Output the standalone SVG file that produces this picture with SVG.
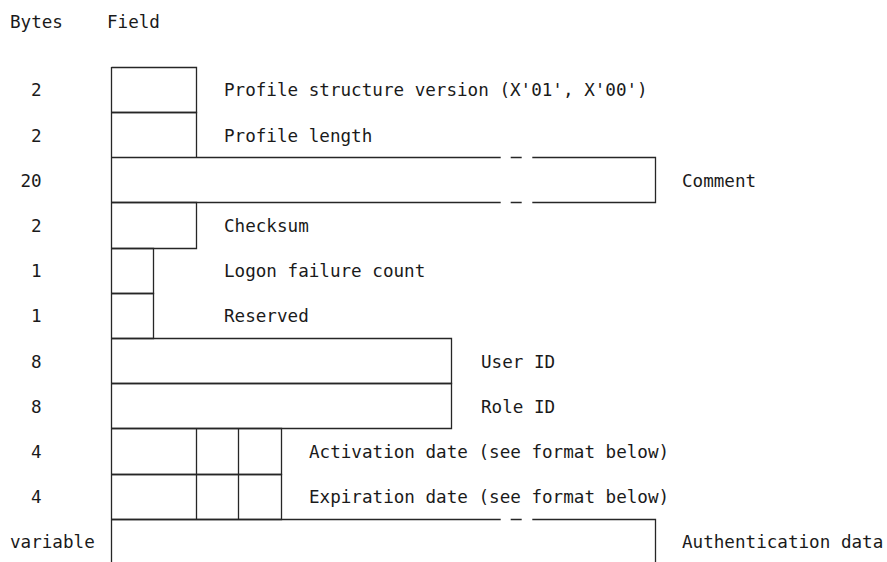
<svg xmlns="http://www.w3.org/2000/svg" width="887" height="562" viewBox="0 0 887 562">
<style>
  text { font-family: "DejaVu Sans Mono", "Liberation Mono", monospace; font-size: 17.6px; fill: #1a1a1a; }
  .ln { fill: none; stroke: #262626; stroke-width: 1.3; }
</style>
<rect x="0" y="0" width="887" height="562" fill="#ffffff"/>
<g id="header">
  <text x="10" y="27.5">Bytes</text>
  <text x="107" y="27.5">Field</text>
</g>
<g id="connectors">
  <path class="ln" d="M111.5 67 V562"/>
</g>
<g id="row-version">
  <path class="ln" d="M111.5 67.5 H196.5 V112.5 H111.5"/>
  <text x="31" y="96">2</text>
  <text x="224" y="96">Profile structure version (X'01', X'00')</text>
</g>
<g id="row-length">
  <path class="ln" d="M111.5 112.5 H196.5 V157.5"/>
  <text x="31" y="141.5">2</text>
  <text x="224" y="141.5">Profile length</text>
</g>
<g id="row-comment">
  <path class="ln" d="M111.5 157.5 H500.7 M510.7 157.5 H521.7 M532.3 157.5 H655.5 V202.5 H532.3 M521.7 202.5 H510.7 M500.7 202.5 H111.5"/>
  <text x="20.5" y="186.5">20</text>
  <text x="682" y="186.5">Comment</text>
</g>
<g id="row-checksum">
  <path class="ln" d="M111.5 202.5 H196.5 V248.5 H111.5"/>
  <text x="31" y="231.5">2</text>
  <text x="224" y="231.5">Checksum</text>
</g>
<g id="row-logon">
  <path class="ln" d="M111.5 248.5 H153.5 V293.5 H111.5"/>
  <text x="31" y="277">1</text>
  <text x="224" y="277">Logon failure count</text>
</g>
<g id="row-reserved">
  <path class="ln" d="M111.5 293.5 H153.5 V338.5 H111.5"/>
  <text x="31" y="322">1</text>
  <text x="224" y="322">Reserved</text>
</g>
<g id="row-userid">
  <path class="ln" d="M111.5 338.5 H451.5 V383.5 H111.5"/>
  <text x="31" y="367.5">8</text>
  <text x="481" y="367.5">User ID</text>
</g>
<g id="row-roleid">
  <path class="ln" d="M111.5 383.5 H451.5 V428.5 H111.5"/>
  <text x="31" y="412.5">8</text>
  <text x="481" y="412.5">Role ID</text>
</g>
<g id="row-activation">
  <path class="ln" d="M111.5 428.5 H281.5 V474.5 H111.5 M196.5 428.5 V474.5 M238.5 428.5 V474.5"/>
  <text x="31" y="457.5">4</text>
  <text x="309" y="457.5">Activation date (see format below)</text>
</g>
<g id="row-expiration">
  <path class="ln" d="M111.5 474.5 H281.5 V519.5 H111.5 M196.5 474.5 V519.5 M238.5 474.5 V519.5"/>
  <text x="31" y="503">4</text>
  <text x="309" y="503">Expiration date (see format below)</text>
</g>
<g id="row-authentication">
  <path class="ln" d="M111.5 519.5 H500.7 M510.7 519.5 H521.7 M532.3 519.5 H655.5 V562"/>
  <text x="10" y="548">variable</text>
  <text x="682" y="548">Authentication data</text>
</g>
</svg>
